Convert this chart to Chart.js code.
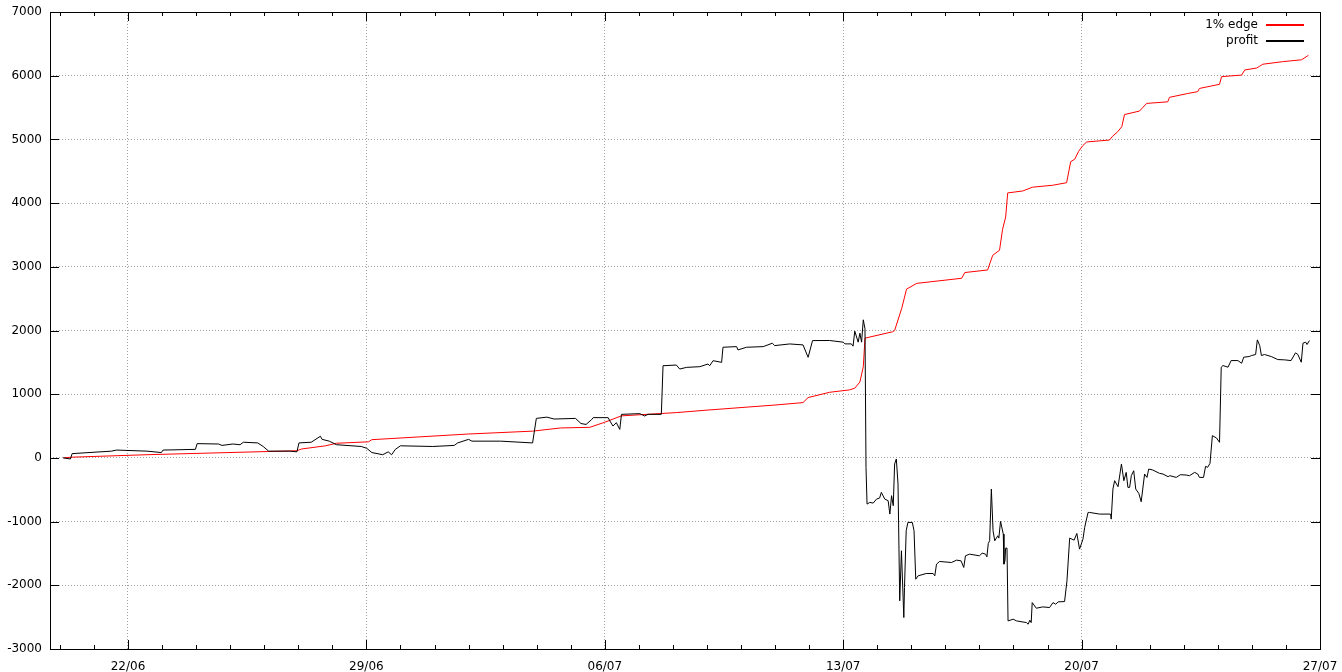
<!DOCTYPE html>
<html>
<head>
<meta charset="utf-8">
<title>profit vs 1% edge</title>
<script src="https://cdn.jsdelivr.net/npm/chart.js@4/dist/chart.umd.min.js"></script>
<style>
  body { margin: 0; background: #fff; }
</style>
</head>
<body>
<canvas id="chart" width="1342" height="672"></canvas>
<script>
// x values are days counted from 22/06 00:00
var xTickDays = [0, 7, 14, 21, 28, 35];
var xTickLabels = ['22/06', '29/06', '06/07', '13/07', '20/07', '27/07'];
var yTicks = [-3000, -2000, -1000, 0, 1000, 2000, 3000, 4000, 5000, 6000, 7000];

var seriesLabels = ['1% edge', 'profit'];
var seriesColors = ['#ff0000', '#000000'];

var edgeDays = [-1.90, -1.66, 0.56, 4.96, 5.10, 5.80, 6.12, 7.06, 7.16, 10.00, 11.88, 12.70, 13.56, 14.00, 14.49,
    16.10, 17.00, 18.00, 19.00, 19.82, 19.97, 20.60, 21.19, 21.34, 21.49, 21.59, 21.64, 22.45, 22.51, 22.72,
    22.86, 23.16, 24.48, 24.57, 25.24, 25.39, 25.59, 25.68, 25.77, 25.83, 26.27, 26.56, 27.15, 27.56, 27.68,
    27.80, 27.91, 28.03, 28.15, 28.82, 28.91, 29.06, 29.18, 29.26, 29.70, 29.91, 30.53, 30.58, 31.11, 31.41,
    31.46, 32.05, 32.11, 32.70, 32.79, 33.14, 33.23, 33.32, 33.90, 34.46, 34.66];
var edgeValues = [0, 11, 50, 112, 140, 190, 230, 252, 286, 375, 420, 470, 480, 560, 660,
    711, 750, 790, 830, 868, 947, 1030, 1068, 1095, 1190, 1430, 1880, 1980, 2000, 2350,
    2650, 2740, 2820, 2910, 2950, 3180, 3260, 3590, 3780, 4160, 4190, 4250, 4280, 4320, 4650,
    4690, 4810, 4900, 4960, 4990, 5050, 5120, 5200, 5390, 5445, 5565, 5590, 5660, 5720, 5750,
    5800, 5865, 5985, 6010, 6090, 6120, 6150, 6180, 6220, 6250, 6320];

var profitDays = [-1.90, -1.69, -1.64, -0.49, -0.33, 0.56, 0.98, 1.03, 1.98, 2.03, 2.66, 2.76, 3.08, 3.29, 3.39,
    3.81, 3.97, 4.13, 4.75, 4.96, 5.02, 5.38, 5.65, 5.70, 5.91, 6.12, 6.85, 7.01, 7.16, 7.48,
    7.64, 7.74, 7.85, 8.00, 8.95, 9.58, 9.68, 10.00, 10.10, 10.94, 11.88, 11.99, 12.30, 12.51, 13.14,
    13.30, 13.45, 13.61, 13.66, 14.10, 14.15, 14.24, 14.34, 14.44, 14.49, 15.03, 15.17, 15.27, 15.66, 15.71,
    16.10, 16.20, 16.40, 16.79, 17.03, 17.08, 17.18, 17.43, 17.47, 17.87, 17.91, 18.16, 18.65, 18.92, 18.99,
    19.43, 19.82, 19.97, 20.10, 20.60, 21.00, 21.05, 21.24, 21.29, 21.34, 21.44, 21.49, 21.54, 21.59, 21.64,
    21.67, 21.70, 21.78, 21.88, 21.98, 22.07, 22.12, 22.22, 22.32, 22.37, 22.42, 22.47, 22.51, 22.56, 22.61,
    22.66, 22.71, 22.78, 22.80, 22.85, 22.90, 23.03, 23.08, 23.13, 23.20, 23.44, 23.64, 23.69, 23.74, 23.83,
    24.18, 24.33, 24.46, 24.54, 24.59, 24.71, 25.00, 25.08, 25.18, 25.22, 25.26, 25.30, 25.35, 25.40, 25.45,
    25.54, 25.57, 25.62, 25.70, 25.72, 25.75, 25.77, 25.81, 25.84, 25.99, 26.09, 26.38, 26.43, 26.48, 26.52,
    26.55, 26.67, 26.86, 27.06, 27.16, 27.24, 27.31, 27.50, 27.57, 27.65, 27.78, 27.86, 27.94, 28.04, 28.09,
    28.19, 28.23, 28.53, 28.85, 28.87, 28.92, 28.97, 29.07, 29.17, 29.24, 29.31, 29.36, 29.41, 29.46, 29.53,
    29.59, 29.68, 29.75, 29.85, 29.92, 29.97, 30.09, 30.29, 30.39, 30.54, 30.59, 30.78, 30.90, 31.07, 31.17,
    31.32, 31.41, 31.46, 31.58, 31.64, 31.70, 31.77, 31.84, 31.96, 32.05, 32.10, 32.15, 32.30, 32.39, 32.59,
    32.70, 32.76, 32.92, 32.99, 33.11, 33.16, 33.23, 33.28, 33.37, 33.57, 33.76, 33.96, 34.15, 34.28, 34.35,
    34.45, 34.50, 34.58, 34.62, 34.69];
var profitValues = [0, -17, 67, 106, 123, 106, 84, 123, 134, 224, 218, 196, 218, 207, 246,
    235, 179, 106, 106, 95, 235, 246, 340, 291, 263, 207, 179, 151, 84, 50,
    95, 50, 134, 190, 179, 196, 235, 291, 263, 263, 235, 620, 640, 610, 620,
    540, 525, 600, 632, 632, 579, 500, 553, 447, 684, 695, 658, 684, 684, 1447,
    1458, 1395, 1421, 1432, 1474, 1447, 1526, 1500, 1737, 1747, 1695, 1737, 1747, 1800, 1763,
    1789, 1774, 1579, 1842, 1843, 1817, 1790, 1790, 1754, 1990, 1817, 1958, 1817, 2168, 2026,
    -149, -725, -699, -709, -646, -630, -541, -646, -672, -882, -593, -751, -96, -17, -410,
    -2244, -1458, -2506, -2035, -1144, -1013, -1013, -1144, -1904, -1851, -1815, -1815, -1851, -1668, -1626,
    -1642, -1605, -1616, -1720, -1537, -1511, -1537, -1495, -1511, -1553, -1343, -1301, -489, -1144, -1301,
    -1222, -1259, -997, -1196, -1668, -1616, -1416, -1416, -2559, -2532, -2559, -2585, -2611, -2548, -2585,
    -2271, -2360, -2339, -2349, -2271, -2297, -2260, -2255, -1930, -1259, -1291, -1186, -1432, -1275, -1092,
    -856, -856, -882, -882, -961, -489, -358, -452, -96, -358, -227, -463, -463, -279, -201,
    -489, -557, -688, -253, -306, -175, -190, -243, -253, -295, -279, -306, -264, -269, -279,
    -227, -253, -306, -306, -133, -148, -86, 349, 313, 245, 1424, 1450, 1424, 1528, 1528,
    1486, 1581, 1591, 1607, 1623, 1853, 1764, 1607, 1623, 1591, 1544, 1539, 1528, 1649, 1623,
    1502, 1801, 1817, 1780, 1843];

function toPoints(days, values) {
    return days.map(function (d, i) { return { x: d, y: values[i] }; });
}

// one minor tick per day, gnuplot style
var dayTicks = [];
for (var d = -2; d <= 35; d++) dayTicks.push(d);

// frame on all four sides with inward ticks, plus the legend in the top right corner
var gnuplotFrame = {
    id: 'gnuplotFrame',
    afterDraw: function (chart) {
        var ctx = chart.ctx;
        var a = chart.chartArea;
        var xs = chart.scales.x;
        var ys = chart.scales.y;
        ctx.save();
        ctx.setLineDash([]);
        ctx.strokeStyle = '#000';
        ctx.lineWidth = 1;
        ctx.beginPath();
        xs.ticks.forEach(function (t) {
            var px = Math.round(xs.getPixelForValue(t.value)) + 0.5;
            var len = (t.value % 7 === 0) ? 9 : 4;
            ctx.moveTo(px, a.bottom);
            ctx.lineTo(px, a.bottom - len);
            ctx.moveTo(px, a.top);
            ctx.lineTo(px, a.top + len);
        });
        ys.ticks.forEach(function (t) {
            var py = Math.round(ys.getPixelForValue(t.value)) + 0.5;
            ctx.moveTo(a.left, py);
            ctx.lineTo(a.left + 9, py);
            ctx.moveTo(a.right, py);
            ctx.lineTo(a.right - 9, py);
        });
        ctx.stroke();
        ctx.strokeRect(Math.round(a.left) + 0.5, Math.round(a.top) + 0.5,
            Math.round(a.right - a.left), Math.round(a.bottom - a.top));

        // legend: label on the left, line sample on the right
        ctx.font = '12px "DejaVu Sans"';
        ctx.textAlign = 'right';
        ctx.textBaseline = 'middle';
        chart.data.datasets.forEach(function (ds, i) {
            var y = Math.round(a.top + 13 + i * 16);
            ctx.fillStyle = '#000';
            ctx.fillText(ds.label, a.right - 62, y);
            ctx.fillStyle = seriesColors[i];
            ctx.fillRect(a.right - 54, y - 1, 38, 2);
        });
        ctx.restore();
    }
};

Chart.defaults.font.family = '"DejaVu Sans"';
Chart.defaults.font.size = 12;
Chart.defaults.color = '#000';

new Chart(document.getElementById('chart'), {
    type: 'line',
    data: {
        datasets: [{
            label: seriesLabels[0],
            data: toPoints(edgeDays, edgeValues),
            borderColor: seriesColors[0],
            borderWidth: 1,
            pointRadius: 0,
            tension: 0,
            order: 1
        }, {
            label: seriesLabels[1],
            data: toPoints(profitDays, profitValues),
            borderColor: seriesColors[1],
            borderWidth: 1,
            pointRadius: 0,
            tension: 0,
            order: 0
        }]
    },
    options: {
        responsive: false,
        animation: false,
        devicePixelRatio: 1,
        layout: { padding: { top: 12, right: 22, left: 0, bottom: 0 } },
        plugins: {
            legend: { display: false },
            tooltip: { enabled: false }
        },
        scales: {
            x: {
                type: 'linear',
                min: -2.29,
                max: 35,
                afterBuildTicks: function (scale) {
                    scale.ticks = dayTicks.map(function (v) { return { value: v }; });
                },
                afterFit: function (scale) {
                    scale.height = 23;
                    // keep the plot edges fixed, labels may overflow into the margin
                    scale.paddingLeft = 0;
                    scale.paddingRight = 0;
                },
                ticks: {
                    autoSkip: false,
                    maxRotation: 0,
                    padding: 11,
                    callback: function (value) {
                        var i = xTickDays.indexOf(value);
                        return i >= 0 ? xTickLabels[i] : '';
                    }
                },
                grid: {
                    drawTicks: false,
                    color: function (c) {
                        return (c.tick && c.tick.value % 7 === 0) ? '#a0a0a0' : 'rgba(0,0,0,0)';
                    }
                },
                border: { display: false, dash: [1, 2] }
            },
            y: {
                min: -3000,
                max: 7000,
                afterBuildTicks: function (scale) {
                    scale.ticks = yTicks.map(function (v) { return { value: v }; });
                },
                afterFit: function (scale) {
                    scale.width = 50;
                    scale.paddingTop = 0;
                    scale.paddingBottom = 0;
                },
                ticks: {
                    padding: 8,
                    callback: function (value) { return String(value); }
                },
                grid: { drawTicks: false, color: '#a0a0a0' },
                border: { display: false, dash: [1, 2] }
            }
        }
    },
    plugins: [gnuplotFrame]
});
</script>
</body>
</html>
